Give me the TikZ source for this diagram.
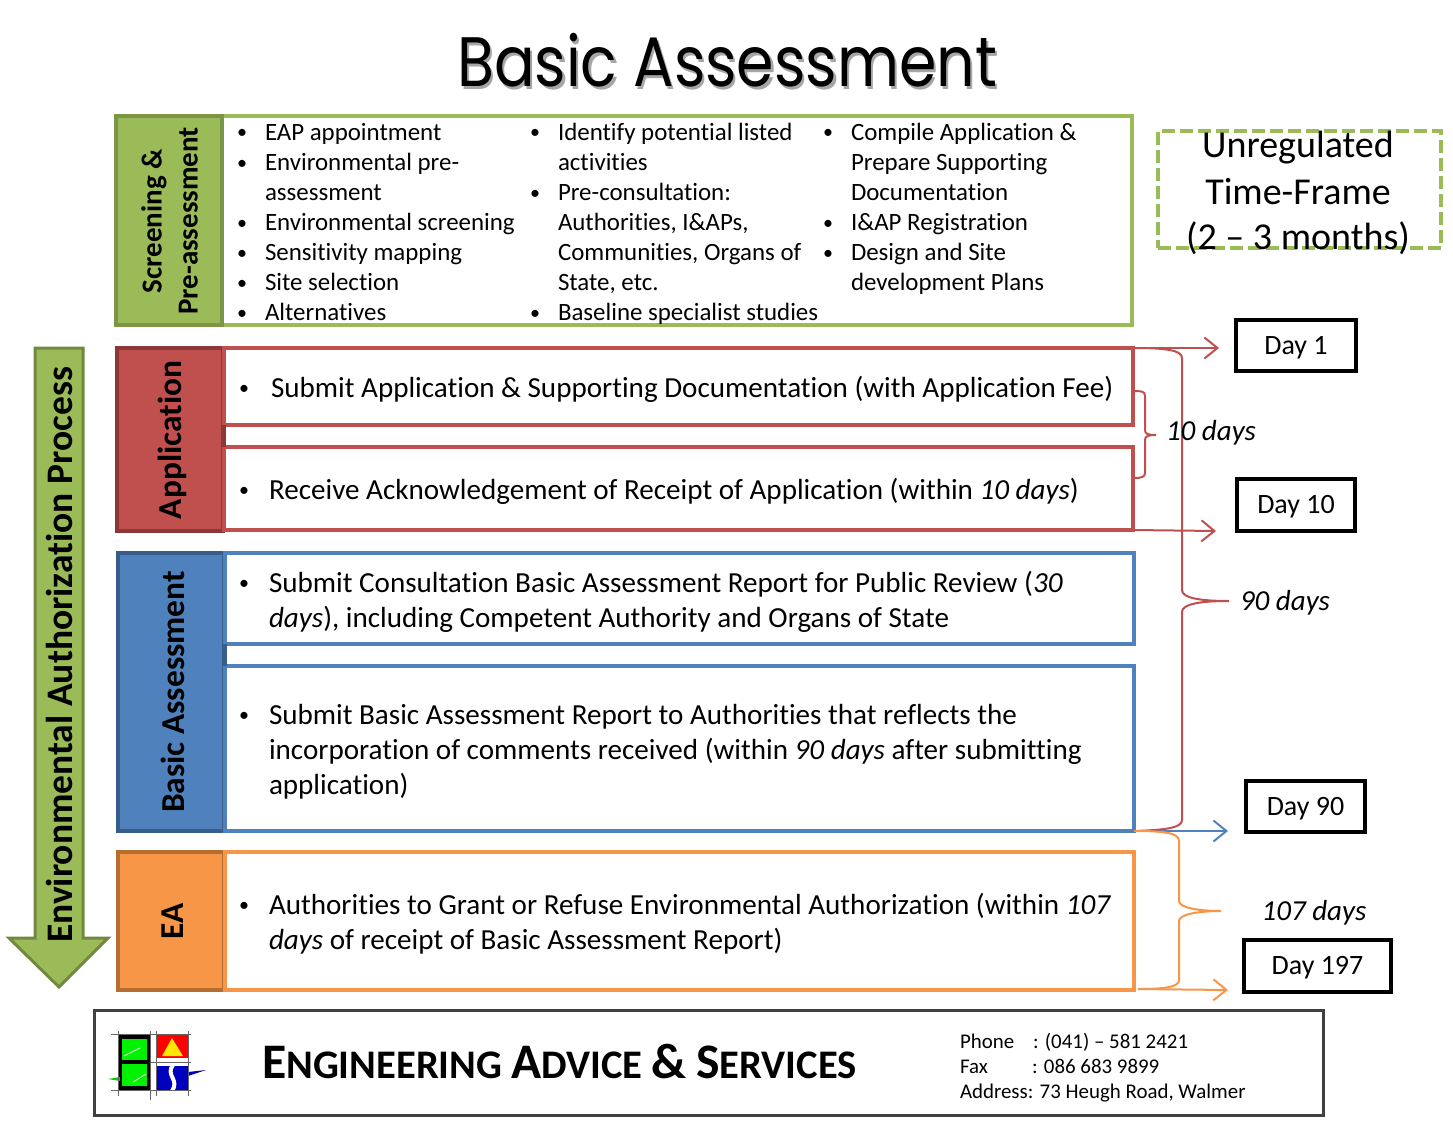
\documentclass[tikz,border=0pt]{standalone}
\usepackage{fontspec}
\setmainfont{Carlito}[Ligatures=NoCommon]
\newfontfamily\titlefont[FakeStretch=0.86]{Poppins}
\usetikzlibrary{arrows.meta}
\definecolor{grn}{HTML}{9BBB59}\definecolor{grnd}{HTML}{71893F}
\definecolor{rd}{HTML}{C0504D}\definecolor{rdd}{HTML}{8C3836}
\definecolor{blu}{HTML}{4F81BD}\definecolor{blud}{HTML}{385D8A}
\definecolor{org}{HTML}{F79646}\definecolor{orgd}{HTML}{B66D31}
\newcommand{\fs}[1]{\fontsize{#1}{#1}\selectfont}
\newcommand{\dtext}[1]{\raisebox{-2pt}[\height][\depth]{#1}}
\tikzset{
 x=1pt,y=-1pt,
 every node/.style={inner sep=0pt,outer sep=0pt},
 sm/.style={anchor=base west,font=\fs{24.9}},
 body/.style={anchor=base west,font=\fs{29.1}},
 bul/.style={anchor=base,font=\fs{20}},
 head/.style={rotate=90,font=\bfseries\fs{33.4},align=center},
 panel/.style={draw=#1,line width=3.5pt,fill=white,anchor=north west},
 hdr/.style={line width=4pt,anchor=north west},
 daybox/.style={draw=black,line width=4pt,fill=white,anchor=north west,font=\fs{28},align=center},
 lab/.style={font=\itshape\fs{29}},
 brace/.style={line width=2pt,draw=#1},
 arr/.style={line width=2pt,draw=#1,-{Straight Barb[length=13pt,width=21pt,line width=2pt]}},
}
\begin{document}
\begin{tikzpicture}
\useasboundingbox (0,0) rectangle (1453,1121);
% title
\node[font=\titlefont\fs{70}] (title) at (727,62) {\rlap{\textcolor{gray!70}{\kern2.5pt\raisebox{-3pt}{Basic Assessment}}}Basic Assessment};
% big green arrow
\path[fill=grn,draw=grnd,line width=3pt] (35,348) -- (83,348) -- (83,938) -- (108,938) -- (59,987) -- (9,938) -- (35,938) -- cycle;
\node[rotate=90,font=\bfseries\fs{37.5}] (proc) at (59,655) {Environmental Authorization Process};
% screening
\node[panel=grn,minimum width=1016pt,minimum height=209pt] (sbox) at (116,116) {};
\node[hdr,draw=grn!80!black,fill=grn,minimum width=106pt,minimum height=209pt] (shdr) at (116,116) {};
\node[head,font=\bfseries\fs{29},align=center] (shead) at (169.5,221) {Screening \&\\[7pt]Pre-assessment};
\foreach \x/\y/\t [count=\i] in {
 265/140/EAP appointment,265/170/Environmental pre-,265/200/assessment,265/230/Environmental screening,265/260/Sensitivity mapping,265/290/Site selection,265/320/Alternatives,
 558/140/Identify potential listed,558/170/activities,558/200/Pre-consultation:,558/230/{Authorities, I\&APs,},558/260/{Communities, Organs of},558/290/{State, etc.},558/320/Baseline specialist studies,
 851/140/Compile Application \&,851/170/Prepare Supporting,851/200/Documentation,851/230/I\&AP Registration,851/260/Design and Site,851/290/development Plans}
 \node[sm] (st\i) at (\x,\y) {\t};
\foreach \x/\y [count=\i] in {242/139,242/169,242/229,242/259,242/289,242/319,535/139,535/199,535/319,828/139,828/229,828/259}
 \node[bul] (sb\i) at (\x,\y) {•};
% unregulated
\node[draw=grn,line width=3.5pt,dashed,dash pattern=on 13pt off 5pt,minimum width=283pt,minimum height=117pt,anchor=north west] (unreg) at (1158,131) {};
\node[font=\fs{38}] (u1) at (1298,148) {Unregulated};
\node[font=\fs{38}] (u2) at (1298,192) {Time-Frame};
\node[font=\fs{38}] (u3) at (1298,238) {(2 -- 3 months)};
% application
\node[hdr,draw=rdd,fill=rd,minimum width=106pt,minimum height=183pt] (ahdr) at (117,348) {};
\node[panel=rd,minimum width=909pt,minimum height=77pt] (abox1) at (224,348) {};
\node[panel=rd,minimum width=909pt,minimum height=83pt] (abox2) at (224,447) {};
\draw[rdd,line width=3.5pt] (abox1.south west) -- (abox2.north west);
\node[head] (ahead) at (172.5,440) {Application};
\node[bul] (ab1) at (244,394) {•};
\node[body] (at1) at (271,397) {Submit Application \& Supporting Documentation (with Application Fee)};
\node[bul] (ab2) at (244,496) {•};
\node[body] (at2) at (269,499) {Receive Acknowledgement of Receipt of Application (within \textit{10 days})};
% basic assessment
\node[hdr,draw=blud,fill=blu,minimum width=106pt,minimum height=278pt] (bhdr) at (118,553) {};
\node[panel=blu,minimum width=909pt,minimum height=91pt] (bbox1) at (225,553) {};
\node[panel=blu,minimum width=909pt,minimum height=165pt] (bbox2) at (225,666) {};
\draw[blud,line width=3.5pt] (bbox1.south west) -- (bbox2.north west);
\node[head] (bhead) at (172.5,692) {Basic Assessment};
\node[bul] (bb1) at (244,589) {•};
\node[body] (bt1) at (269,592) {Submit Consultation Basic Assessment Report for Public Review (\textit{30}};
\node[body] (bt2) at (269,627) {\textit{days}), including Competent Authority and Organs of State};
\node[bul] (bb2) at (244,721) {•};
\node[body] (bt3) at (269,724) {Submit Basic Assessment Report to Authorities that reflects the};
\node[body] (bt4) at (269,759) {incorporation of comments received (within \textit{90 days} after submitting};
\node[body] (bt5) at (269,794) {application)};
% EA
\node[hdr,draw=orgd,fill=org,minimum width=106pt,minimum height=138pt] (ehdr) at (118,852) {};
\node[panel=org,minimum width=909pt,minimum height=138pt] (ebox) at (225,852) {};
\node[head] (ehead) at (172.5,921) {EA};
\node[bul] (eb1) at (244,911) {•};
\node[body] (et1) at (269,914) {Authorities to Grant or Refuse Environmental Authorization (within \textit{107}};
\node[body] (et2) at (269,949) {\textit{days} of receipt of Basic Assessment Report)};
% day boxes
\node[daybox,minimum width=120pt,minimum height=51pt] (d1) at (1236,320) {\dtext{Day 1}};
\node[daybox,minimum width=118pt,minimum height=52pt] (d10) at (1237,479) {\dtext{Day 10}};
\node[daybox,minimum width=119pt,minimum height=51pt] (d90) at (1246,781) {\dtext{Day 90}};
\node[daybox,minimum width=147pt,minimum height=52pt] (d197) at (1244,940) {\dtext{Day 197}};
% arrow ends
\coordinate (e1) at (1219,348);
\coordinate (e10) at (1216,531);
\coordinate (e90) at (1228,831);
\coordinate (e197) at (1228,990);
\coordinate (t10) at (1156,435);
\coordinate (t90) at (1229,601);
\coordinate (t107) at (1221,911);
\coordinate (forg) at (1138,989);
% connectors
\draw[arr=rd] (abox1.north east) -- (e1);
\draw[arr=rd] (abox2.south east) -- (e10);
\draw[arr=blu] (bbox2.south east) -- (e90);
\draw[arr=org] (forg) -- (e197);
\draw[brace=rd] (abox1.east |- 0,391) .. controls (1141,391) and (1145,391) .. (1145,396) -- (1145,430) .. controls (1145,434) and (1148,435) .. (t10) .. controls (1148,435) and (1145,436) .. (1145,440) -- (1145,473) .. controls (1145,477) and (1141,478) .. (1135,478);
\draw[brace=rd] (abox1.north east) .. controls (1165,348) and (1182,350) .. (1182,358) -- (1182,590) .. controls (1182,598) and (1200,601) .. (t90) .. controls (1200,601) and (1182,604) .. (1182,612) -- (1182,820) .. controls (1182,828) and (1165,830) .. (bbox2.south east);
\draw[brace=org] (bbox2.south east) .. controls (1165,831) and (1179,833) .. (1179,841) -- (1179,901) .. controls (1179,908) and (1200,911) .. (t107) .. controls (1200,911) and (1179,914) .. (1179,921) -- (1179,980) .. controls (1179,987) and (1165,989) .. (forg);
\node[lab] (l10) at (1211,433) {10 days};
\node[lab] (l90) at (1285,603) {90 days};
\node[lab] (l107) at (1314,913) {107 days};
% footer
\node[draw=black!75,line width=3pt,minimum width=1229pt,minimum height=105pt,anchor=north west] (foot) at (94.5,1010.5) {};
% logo
\fill[green!95!black] (120,1037) rectangle (149,1088);
\draw[white,line width=.7pt] (124,1056) -- (140,1048) (133,1082) -- (146,1074);
\draw[black,line width=4pt] (120,1037) rectangle (149,1088);
\draw[black,line width=4pt] (120,1062) -- (149,1062);
\fill[red] (157,1035) rectangle (188,1058);
\fill[yellow!90!orange] (162,1056) -- (172,1038) -- (183,1056) -- cycle;
\fill[blue!75!black] (157,1066) rectangle (188,1090);
\draw[white,line width=4pt] (173,1065) .. controls (165,1075) and (180,1080) .. (172,1091);
\fill[blue!75!black] (188,1072) -- (206,1070) -- (188,1076) -- cycle;
\fill[green!80!black] (108,1079) -- (120,1077) -- (120,1081) -- cycle;
\draw[black!60,line width=1pt] (111,1034) -- (191,1034) (111,1090) -- (191,1090) (118,1031) -- (118,1096) (150,1031) -- (150,1100) (156,1031) -- (156,1096) (188,1031) -- (188,1096) (150,1062) -- (191,1062);
% footer text
\node[anchor=base west,font=\bfseries\fs{40.6}] (co) at (262,1078) {{\fs{49.7}E}NGINEERING {\fs{49.7}A}DVICE {\fs{49.7}\&} {\fs{49.7}S}ERVICES};
\node[anchor=base west,font=\fs{20.9}] (c1) at (960,1048) {Phone};
\node[anchor=base west,font=\fs{20.9}] (c1b) at (1033,1048) {: (041) -- 581 2421};
\node[anchor=base west,font=\fs{20.9}] (c2) at (960,1073) {Fax};
\node[anchor=base west,font=\fs{20.9}] (c2b) at (1032,1073) {: 086 683 9899};
\node[anchor=base west,font=\fs{20.9}] (c3) at (960,1098) {Address: 73 Heugh Road, Walmer};
\end{tikzpicture}
\end{document}
